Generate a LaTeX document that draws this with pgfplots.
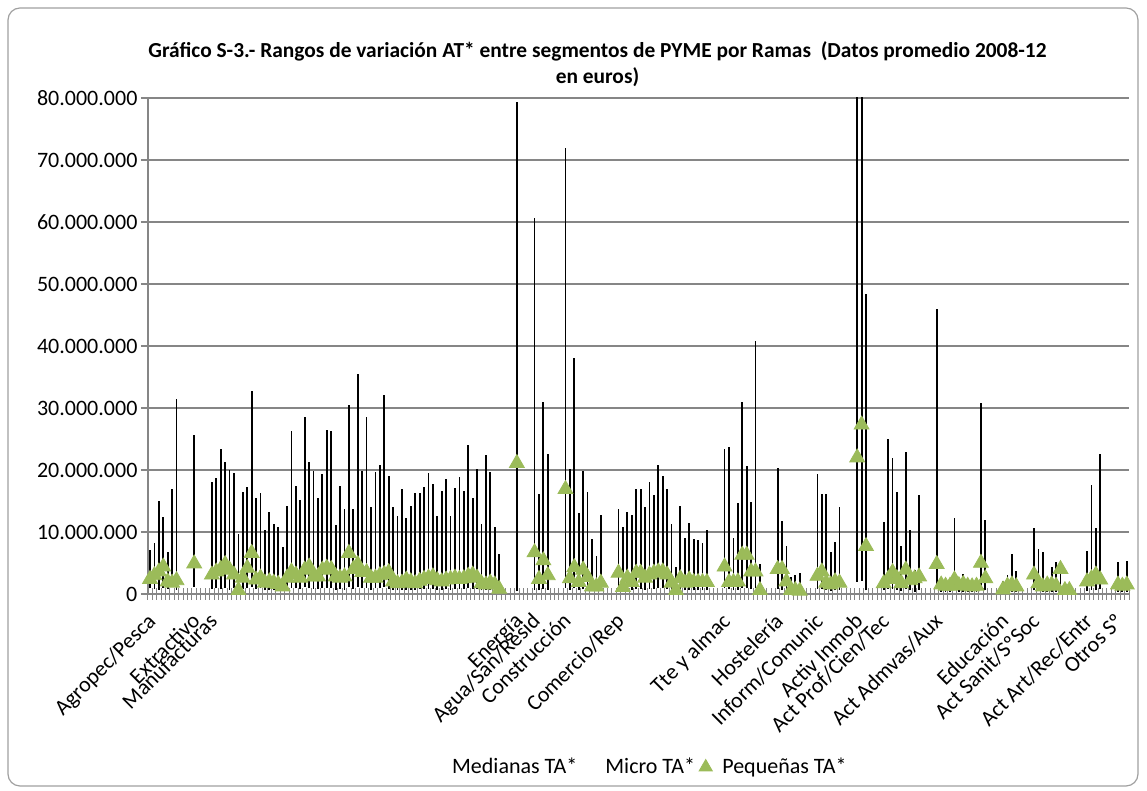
\documentclass[border=0pt]{standalone}
\usepackage{fontspec}
\setmainfont{Carlito}
\usepackage{pgfplots}
\pgfplotsset{compat=1.18}
\usepackage{pgfplotstable}

\definecolor{gridgray}{RGB}{134,134,134}
\definecolor{framegray}{RGB}{160,160,160}
\definecolor{pgreen}{RGB}{155,187,89}

% i = category position, values in millions of euros
% high = Medianas TA*, low = Micro TA*, close = Pequenas TA*
\pgfplotstableread{
i high low close
0 7.1 0.9 2.4
1 8.2 0.8 3.0
2 15.0 0.7 3.6
3 12.4 1.0 4.4
4 6.8 0.8 2.0
5 16.9 1.1 1.8
6 31.5 0.7 2.2
10 25.7 1.2 4.9
14 18.0 0.8 3.1
15 18.7 0.9 3.6
16 23.4 0.8 4.0
17 21.3 1.0 4.8
18 20.0 0.7 3.9
19 19.5 0.9 3.1
20 9.7 0.3 0.6
21 16.4 0.8 2.6
22 17.3 0.9 4.2
23 32.7 1.1 6.6
24 15.5 0.8 2.3
25 16.3 0.9 2.6
26 10.3 0.6 1.8
27 13.2 0.7 2.0
28 11.3 0.6 1.8
29 10.8 0.6 1.6
30 7.6 0.5 1.2
31 14.2 0.8 2.6
32 26.3 1.0 3.6
33 17.4 0.9 3.1
34 15.2 0.8 2.6
35 28.5 1.1 3.9
36 21.3 0.9 4.4
37 19.9 0.8 2.8
38 15.5 0.8 2.8
39 19.4 0.9 3.9
40 26.4 1.0 4.2
41 26.3 1.0 4.0
42 11.1 0.7 2.8
43 17.4 0.8 2.6
44 13.7 0.7 2.8
45 30.5 1.1 6.6
46 13.7 0.8 4.0
47 35.5 1.2 4.8
48 19.8 0.9 3.5
49 28.5 1.0 3.5
50 14.0 0.7 2.6
51 19.7 0.9 2.6
52 20.8 0.9 3.0
53 32.1 1.1 3.2
54 19.0 0.8 3.5
55 14.0 0.7 2.0
56 12.6 0.6 1.7
57 16.9 0.7 1.8
58 12.3 0.7 2.3
59 14.2 0.7 2.0
60 16.3 0.7 1.7
61 16.3 0.8 2.1
62 17.3 0.8 2.4
63 19.5 0.8 2.6
64 17.7 0.8 2.8
65 12.6 0.7 2.2
66 16.6 0.7 2.0
67 18.5 0.8 2.3
68 12.6 0.7 2.4
69 17.1 0.8 2.6
70 18.9 0.8 2.4
71 16.6 0.8 2.5
72 24.0 0.9 2.9
73 15.5 0.8 3.1
74 20.2 0.8 2.6
75 11.3 0.6 1.7
76 22.4 0.7 1.5
77 19.7 0.7 1.8
78 10.8 0.6 1.5
79 6.5 0.4 0.8
83 79.3 0.5 21.1
87 60.6 0.7 6.7
88 16.2 0.6 2.4
89 31.0 0.8 5.4
90 22.5 0.7 3.0
94 71.9 1.0 16.9
95 20.1 0.7 2.5
96 38.0 0.9 4.3
97 13.0 0.6 1.9
98 19.9 0.8 3.9
99 16.4 0.7 2.7
100 8.8 0.5 1.2
101 6.1 0.5 1.2
102 12.8 0.6 1.8
106 13.7 0.8 3.4
107 10.8 0.5 1.1
108 13.2 0.7 2.6
109 12.7 0.7 1.9
110 17.0 0.8 3.4
111 16.9 0.8 3.4
112 14.0 0.7 2.6
113 18.0 0.8 3.1
114 16.0 0.8 3.4
115 20.8 0.9 3.6
116 19.0 0.9 3.6
117 16.9 0.8 3.1
118 11.3 0.6 1.8
119 4.4 0.3 0.6
120 14.2 0.7 2.5
121 9.1 0.6 1.8
122 11.4 0.7 2.3
123 8.8 0.6 1.9
124 8.7 0.6 1.9
125 8.3 0.6 1.9
126 10.4 0.6 1.9
130 23.4 0.9 4.4
131 23.7 0.8 1.9
132 9.0 0.6 1.9
133 14.6 0.7 2.0
134 31.0 1.0 6.3
135 20.6 0.9 6.3
136 14.9 0.8 3.6
137 40.8 0.9 3.6
138 4.8 0.3 0.6
142 20.3 0.8 4.0
143 11.8 0.7 4.0
144 7.8 0.5 2.0
145 2.8 0.2 0.6
146 3.1 0.2 0.6
147 3.4 0.2 0.5
151 19.4 0.8 2.9
152 16.2 0.8 3.6
153 16.2 0.7 1.8
154 6.7 0.5 1.5
155 8.4 0.6 2.0
156 14.1 0.7 1.8
160 95.0 2.0 22.0
161 95.0 2.1 27.3
162 48.4 0.6 7.7
166 11.6 0.7 1.7
167 25.0 0.8 2.4
168 22.0 0.8 3.5
169 16.4 0.7 2.5
170 7.7 0.5 1.7
171 22.9 0.8 3.9
172 10.4 0.6 2.2
173 3.8 0.4 2.5
174 16.0 0.7 2.8
178 46.0 0.8 4.8
179 2.5 0.3 1.5
180 1.9 0.3 1.3
181 1.6 0.3 1.3
182 12.3 0.6 2.3
183 2.0 0.3 1.4
184 3.2 0.3 1.6
185 2.0 0.3 1.3
186 1.6 0.3 1.2
187 2.4 0.3 1.3
188 30.8 0.7 5.0
189 12.0 0.6 2.5
193 2.1 0.2 0.7
194 3.1 0.3 1.3
195 6.5 0.4 1.5
196 3.7 0.3 1.2
200 10.7 0.6 3.1
201 7.3 0.5 1.7
202 6.7 0.4 1.2
203 2.5 0.3 1.5
204 4.3 0.3 1.5
205 5.2 0.4 1.3
206 5.0 0.4 4.0
207 1.0 0.2 0.6
208 1.0 0.2 0.6
212 6.9 0.5 2.0
213 17.5 0.7 2.5
214 10.6 0.6 3.1
215 22.5 0.8 2.3
219 5.1 0.4 1.5
220 2.0 0.3 1.3
221 5.3 0.4 1.5
}\rangos

\begin{document}
\begin{tikzpicture}
\useasboundingbox (0,0) rectangle (573.5pt,395.5pt);
\draw[framegray, line width=0.6pt, rounded corners=6pt] (4pt,2.5pt) rectangle (569pt,391.5pt);
\node[anchor=base, font=\fontsize{10.7}{13}\selectfont\bfseries] at (298.75pt,366.5pt)
  {Gráfico S-3.- Rangos de variación AT* entre segmentos de PYME por Ramas\ \ (Datos promedio 2008-12};
\node[anchor=base, font=\fontsize{10.7}{13}\selectfont\bfseries] at (298.75pt,353.5pt) {en euros)};
\begin{axis}[
    at={(73.9pt,98.5pt)}, anchor=south west,
    scale only axis, width=490.6pt, height=248pt,
    xmin=-0.5, xmax=221.5, ymin=0, ymax=80,
    axis lines*=left,
    axis line style={draw=gridgray, line width=0.8pt},
    ymajorgrids=true,
    grid style={draw=gridgray, line width=0.8pt},
    ytick={0,10,20,30,40,50,60,70,80},
    yticklabels={0,10.000.000,20.000.000,30.000.000,40.000.000,50.000.000,60.000.000,70.000.000,80.000.000},
    ytick align=outside,
    major tick length=3.5pt,
    y tick style={draw=gridgray, line width=0.8pt},
    yticklabel style={inner sep=1.5pt},
    xtick={0,10,14,83,87,94,106,130,142,151,160,166,178,193,200,212,219},
    xticklabels={Agropec/Pesca,Extractivo,Manufacturas,Energía,Agua/San/Resid,Construcción,Comercio/Rep,Tte y almac,Hostelería,Inform/Comunic,Activ Inmob,Act Prof/Cien/Tec,Act Admvas/Aux,Educación,Act Sanit/SºSoc,Act Art/Rec/Entr,Otros Sº},
    minor xtick={-0.5,0.5,...,221.5},
    xtick align=center,
    minor tick length=6pt,
    major x tick style={draw=none},
    minor x tick style={draw=gridgray, line width=0.5pt},
    xticklabel style={xshift=-2pt, yshift=-5.5pt, rotate=45, anchor=north east, inner sep=1pt},
    tick label style={font=\fontsize{11}{13}\selectfont},
    legend columns=3,
    legend style={at={(0.501,-0.349)}, anchor=center, draw=none, fill=none,
        font=\fontsize{11}{13}\selectfont,
        /tikz/every odd column/.append style={column sep=3pt}},
]
% high-low lines (Micro TA* up to Medianas TA*)
\addplot[draw=none, no markers, forget plot,
    error bars/.cd, y dir=plus, y explicit, error mark=none,
    error bar style={draw=black, line width=0.9pt}]
    table[x=i, y=low, y error expr=\thisrow{high}-\thisrow{low}] {\rangos};

\addlegendimage{legend image code/.code={\path[draw=none, fill=none] (0pt,-3pt) (7pt,3pt);}}
\addlegendentry{Medianas TA*}
\addlegendimage{legend image code/.code={\path[draw=none, fill=none] (0pt,-3pt) (7pt,3pt);}}
\addlegendentry{Micro TA*}

\addplot[only marks, mark=triangle*, mark size=4.3pt,
    mark options={fill=pgreen, draw=pgreen},
    legend image code/.code={\draw[only marks, mark=triangle*, mark size=3.8pt,
        mark options={fill=pgreen, draw=pgreen}] plot coordinates {(3.5pt,0pt)};}]
    table[x=i, y=close] {\rangos};
\addlegendentry{Pequeñas TA*}
\end{axis}
\end{tikzpicture}
\end{document}
